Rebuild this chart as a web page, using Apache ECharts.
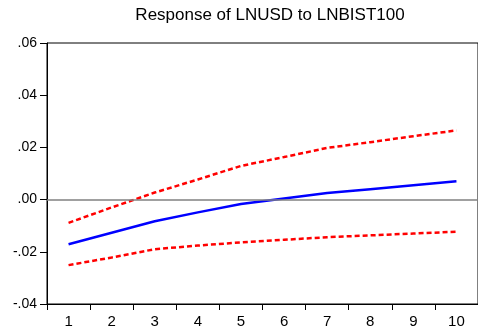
<!DOCTYPE html>
<html>
<head>
<meta charset="utf-8">
<script src="https://cdn.jsdelivr.net/npm/echarts@6/dist/echarts.min.js"></script>
<style>
  html, body { margin: 0; padding: 0; background: #fff; }
  #chart { width: 478px; height: 334px; }
</style>
</head>
<body>
<div id="chart"></div>
<script>
// Impulse response horizons
const periods = ['1', '2', '3', '4', '5', '6', '7', '8', '9', '10'];
// Point response of LNUSD to a LNBIST100 shock
const response = [-0.0171, -0.0127, -0.0083, -0.0049, -0.0017, 0.0004, 0.0025, 0.0040, 0.0055, 0.0070];
// Upper and lower +/- 2 S.E. bands
const upperBand = [-0.0089, -0.0030, 0.0027, 0.0077, 0.0129, 0.0163, 0.0198, 0.0220, 0.0243, 0.0265];
const lowerBand = [-0.0251, -0.0222, -0.0190, -0.0176, -0.0164, -0.0154, -0.0144, -0.0137, -0.0130, -0.0123];
// Value axis ticks
const yTicks = [-0.04, -0.02, 0, 0.02, 0.04, 0.06];

function fmt(v) {
  const s = Math.abs(v).toFixed(2).replace(/^0/, '');
  return (v < -1e-9 ? '-' : '') + s;
}

const chart = echarts.init(document.getElementById('chart'), null, { renderer: 'canvas' });
const font = 'Liberation Sans, Arial, sans-serif';

chart.setOption({
  animation: false,
  title: {
    text: 'Response of LNUSD to LNBIST100',
    left: 265,
    textAlign: 'center',
    top: 2,
    textStyle: { fontFamily: font, fontSize: 17, fontWeight: 'normal', color: '#000' }
  },
  grid: {
    left: 47, top: 43, bottom: 30, right: -5,
    show: true, borderColor: '#000', borderWidth: 1, backgroundColor: 'transparent'
  },
  xAxis: {
    type: 'category',
    data: periods,
    boundaryGap: true,
    axisLine: { onZero: false, lineStyle: { color: '#000', width: 1 } },
    axisTick: { show: true, alignWithLabel: false, length: 6, lineStyle: { color: '#000' } },
    axisLabel: { fontFamily: font, fontSize: 15, color: '#000', margin: 10 },
    splitLine: { show: false }
  },
  yAxis: {
    type: 'value',
    min: yTicks[0],
    max: yTicks[yTicks.length - 1],
    interval: 0.02,
    axisLine: { show: true, lineStyle: { color: '#000', width: 1 } },
    axisTick: { show: true, length: 7, lineStyle: { color: '#000' } },
    axisLabel: { fontFamily: font, fontSize: 14, color: '#000', margin: 10, formatter: fmt },
    splitLine: { show: false }
  },
  series: [
    {
      name: 'Response',
      type: 'line',
      data: response,
      symbol: 'none',
      z: 3,
      lineStyle: { color: '#0000ff', width: 2.5 },
      markLine: {
        silent: true,
        symbol: 'none',
        label: { show: false },
        lineStyle: { color: '#808080', width: 1.5, type: 'solid' },
        data: [{ yAxis: 0 }]
      }
    },
    {
      name: 'Upper',
      type: 'line',
      data: upperBand,
      symbol: 'none',
      z: 4,
      lineStyle: { color: '#ff0000', width: 2.5, type: [5, 3] }
    },
    {
      name: 'Lower',
      type: 'line',
      data: lowerBand,
      symbol: 'none',
      z: 4,
      lineStyle: { color: '#ff0000', width: 2.5, type: [5, 3] }
    }
  ]
});
</script>
</body>
</html>
